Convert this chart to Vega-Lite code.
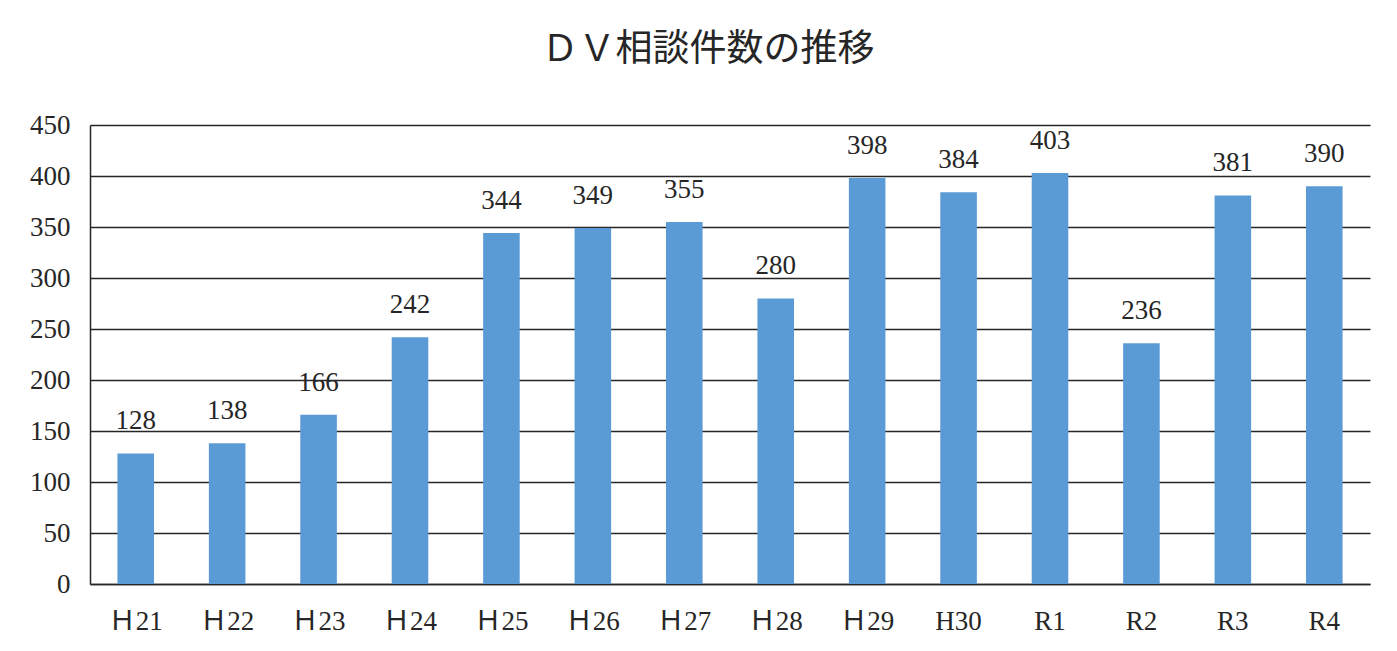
{
  "$schema": "https://vega.github.io/schema/vega-lite/v6.json",
  "width": 1280,
  "height": 459,
  "autosize": {"type": "none"},
  "padding": {"left": 90, "top": 125, "right": 27, "bottom": 67},
  "background": "white",
  "title": {
    "text": "ＤＶ相談件数の推移",
    "font": "Liberation Serif, Noto Sans CJK JP",
    "fontSize": 37,
    "fontWeight": "normal",
    "color": "#262626",
    "anchor": "middle",
    "offset": 42,
    "dx": -22
  },
  "config": {
    "view": {"stroke": null},
    "font": "Liberation Serif, Noto Sans CJK JP"
  },
  "data": {
    "values": [
      {"year": "Ｈ21", "count": 128},
      {"year": "Ｈ22", "count": 138},
      {"year": "Ｈ23", "count": 166},
      {"year": "Ｈ24", "count": 242},
      {"year": "Ｈ25", "count": 344},
      {"year": "Ｈ26", "count": 349},
      {"year": "Ｈ27", "count": 355},
      {"year": "Ｈ28", "count": 280},
      {"year": "Ｈ29", "count": 398},
      {"year": "H30", "count": 384},
      {"year": "R1", "count": 403},
      {"year": "R2", "count": 236},
      {"year": "R3", "count": 381},
      {"year": "R4", "count": 390}
    ]
  },
  "encoding": {
    "x": {
      "field": "year",
      "type": "nominal",
      "sort": null,
      "scale": {"paddingInner": 0.6, "paddingOuter": 0.3},
      "axis": {
        "title": null,
        "labelAngle": 0,
        "ticks": false,
        "domain": true,
        "domainColor": "#262626",
        "domainWidth": 1.5,
        "labelPadding": 24,
        "labelFontSize": 27,
        "labelColor": "#262626",
        "labelFont": "Liberation Serif, Noto Sans CJK JP"
      }
    },
    "y": {
      "field": "count",
      "type": "quantitative",
      "scale": {"domain": [0, 450], "nice": false},
      "axis": {
        "title": null,
        "values": [0, 50, 100, 150, 200, 250, 300, 350, 400, 450],
        "grid": true,
        "gridColor": "#262626",
        "gridWidth": 1.5,
        "gridOpacity": 1,
        "ticks": false,
        "domain": true,
        "domainColor": "#262626",
        "domainWidth": 1.5,
        "labelPadding": 20,
        "labelFontSize": 27,
        "labelColor": "#262626",
        "labelFont": "Liberation Serif"
      }
    }
  },
  "layer": [
    {"mark": {"type": "bar", "color": "#5B9BD5"}},
    {
      "mark": {
        "type": "text",
        "dy": -32,
        "baseline": "middle",
        "fontSize": 27,
        "color": "#262626",
        "font": "Liberation Serif"
      },
      "encoding": {"text": {"field": "count", "type": "quantitative"}}
    }
  ]
}
